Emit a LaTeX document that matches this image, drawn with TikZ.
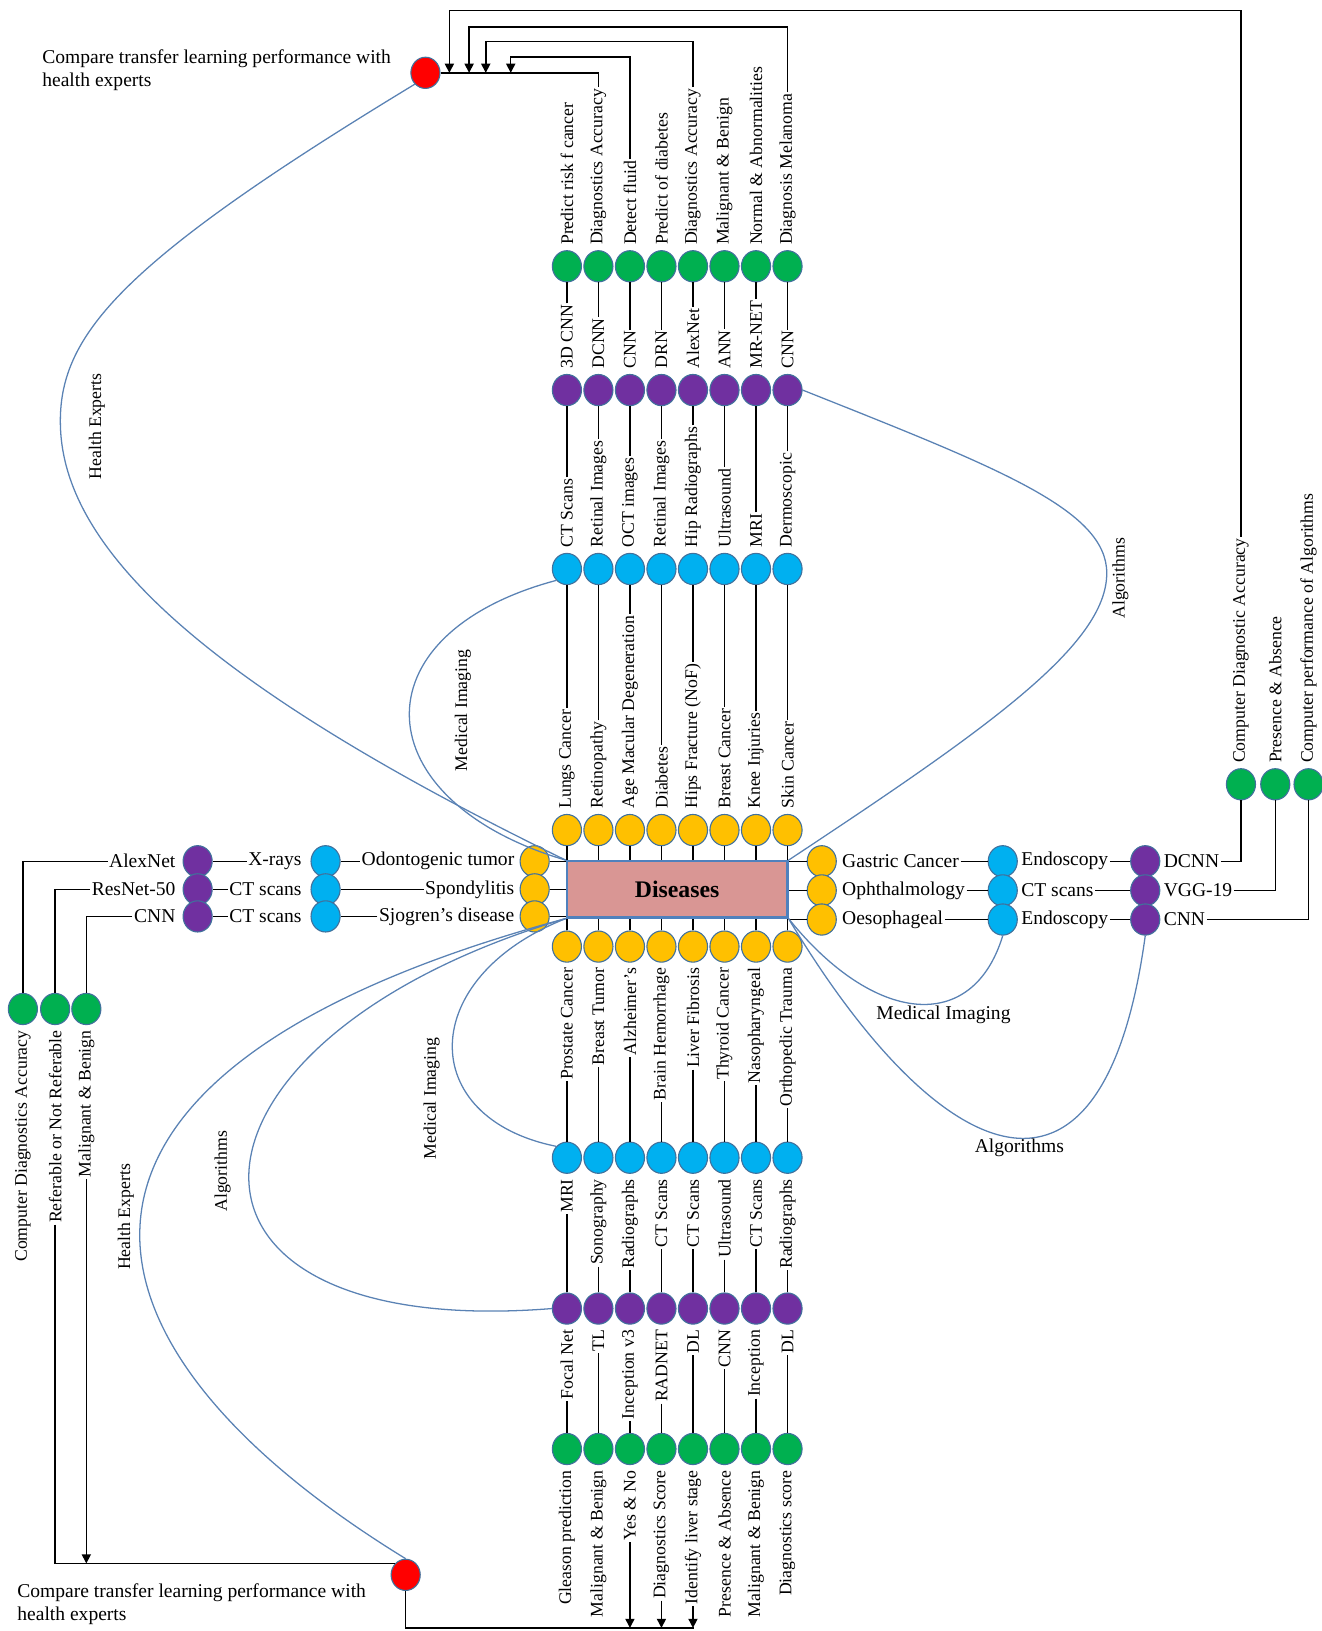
\documentclass[tikz,border=0pt]{standalone}
\usepackage{fontspec}
\setmainfont{Liberation Serif}
\usetikzlibrary{shapes.geometric,positioning,arrows.meta}

\definecolor{dotyellow}{HTML}{FFC000}
\definecolor{dotblue}{HTML}{00B0F0}
\definecolor{dotpurple}{HTML}{7030A0}
\definecolor{dotgreen}{HTML}{00B050}
\definecolor{dotred}{HTML}{FF0000}
\definecolor{dotrim}{HTML}{41719C}
\definecolor{linkblue}{HTML}{5A82B4}
\definecolor{boxfill}{HTML}{D99694}
\definecolor{boxrim}{HTML}{4F81BD}

\newcommand{\hlabfont}{\fontsize{10.7}{12.5}\selectfont}
\newcommand{\vlabfont}{\fontsize{9.7}{11}\selectfont}

\tikzset{
  dot/.style={ellipse,draw=dotrim,line width=0.6pt,minimum width=0.56cm,minimum height=0.6cm,inner sep=0pt},
  ydot/.style={dot,fill=dotyellow},
  bdot/.style={dot,fill=dotblue},
  pdot/.style={dot,fill=dotpurple},
  gdot/.style={dot,fill=dotgreen},
  rdot/.style={dot,fill=dotred},
  vlab/.style={rotate=90,font=\vlabfont,inner sep=0.5pt},
  hlab/.style={font=\hlabfont,inner sep=0.5pt},
  link/.style={draw=linkblue,line width=0.7pt},
  >={Triangle[length=5pt,width=5pt]},
}

\begin{document}
\begin{tikzpicture}[x=0.02cm,y=-0.02cm,line width=0.8pt]
  \useasboundingbox (0,0) rectangle (1270,1568);

  \node[draw=boxrim,fill=boxfill,line width=1.2pt,minimum width=4.24cm,minimum height=1.08cm,
        font=\fontsize{13}{15}\selectfont\bfseries] (box) at (651,855) {Diseases};

  %% upper columns
  \foreach \i/\tout/\talg/\timg/\tdis in {
      1/{Predict risk f cancer}/{3D CNN}/{CT Scans}/{Lungs Cancer},
      2/{Diagnostics Accuracy}/DCNN/{Retinal Images}/Retinopathy,
      3/{Detect fluid}/CNN/{OCT images}/{Age Macular Degeneration},
      4/{Predict of diabetes}/DRN/{Retinal Images}/Diabetes,
      5/{Diagnostics Accuracy}/AlexNet/{Hip Radiographs}/{Hips Fracture (NoF)},
      6/{Malignant \& Benign}/ANN/Ultrasound/{Breast Cancer},
      7/{Normal \& Abnormalities}/MR-NET/MRI/{Knee Injuries},
      8/{Diagnosis Melanoma}/CNN/Dermoscopic/{Skin Cancer}}{
    \pgfmathsetmacro{\cx}{514.7+30.3*\i}
    \node[ydot] (yT-\i) at (\cx,798) {};
    \node[bdot] (bT-\i) at (\cx,547) {};
    \node[pdot] (pT-\i) at (\cx,375) {};
    \node[gdot] (gT-\i) at (\cx,256) {};
    \node[vlab,above=2pt of yT-\i,anchor=west] (lyT-\i) {\tdis};
    \node[vlab,above=2pt of bT-\i,anchor=west] (lbT-\i) {\timg};
    \node[vlab,above=2pt of pT-\i,anchor=west] (lpT-\i) {\talg};
    \node[vlab,above=2pt of gT-\i,anchor=west] (lgT-\i) {\tout};
    \draw (yT-\i) -- (yT-\i |- box.north);
    \draw (lyT-\i.east) -- (bT-\i);
    \draw (lbT-\i.east) -- (pT-\i);
    \draw (lpT-\i.east) -- (gT-\i);
  }

  %% lower columns
  \foreach \i/\tdis/\timg/\talg/\tout in {
      1/{Prostate Cancer}/MRI/{Focal Net}/{Gleason prediction},
      2/{Breast Tumor}/Sonography/TL/{Malignant \& Benign},
      3/{Alzheimer's}/Radiographs/{Inception v3}/{Yes \& No},
      4/{Brain Hemorrhage}/{CT Scans}/RADNET/{Diagnostics Score},
      5/{Liver Fibrosis}/{CT Scans}/DL/{Identify liver stage},
      6/{Thyroid Cancer}/Ultrasound/CNN/{Presence \& Absence},
      7/Nasopharyngeal/{CT Scans}/Inception/{Malignant \& Benign},
      8/{Orthopedic Trauma}/Radiographs/DL/{Diagnostics score}}{
    \pgfmathsetmacro{\cx}{514.7+30.3*\i}
    \node[ydot] (yB-\i) at (\cx,910) {};
    \node[bdot] (bB-\i) at (\cx,1113) {};
    \node[pdot] (pB-\i) at (\cx,1258) {};
    \node[gdot] (gB-\i) at (\cx,1393) {};
    \node[vlab,below=2pt of yB-\i,anchor=east] (lyB-\i) {\tdis};
    \node[vlab,below=2pt of bB-\i,anchor=east] (lbB-\i) {\timg};
    \node[vlab,below=2pt of pB-\i,anchor=east] (lpB-\i) {\talg};
    \node[vlab,below=2pt of gB-\i,anchor=east] (lgB-\i) {\tout};
    \draw (yB-\i) -- (yB-\i |- box.south);
    \draw (lyB-\i.west) -- (bB-\i);
    \draw (lbB-\i.west) -- (pB-\i);
    \draw (lpB-\i.west) -- (gB-\i);
  }

  %% left rows
  \foreach \i/\gx/\tout in {1/22/{Computer Diagnostics Accuracy},
      2/53/{Referable or Not Referable},3/83/{Malignant \& Benign}}{
    \node[gdot] (gL-\i) at (\gx,970) {};
    \node[vlab,below=2pt of gL-\i,anchor=east] (lgL-\i) {\tout};
  }
  \foreach \i/\y/\tdis/\timg/\talg in {1/828/{Odontogenic tumor}/X-rays/AlexNet,
      2/855/Spondylitis/{CT scans}/ResNet-50,3/881/{Sjogren's disease}/{CT scans}/CNN}{
    \node[ydot] (yL-\i) at (514,\y) {};
    \node[bdot] (bL-\i) at (313,\y) {};
    \node[pdot] (pL-\i) at (190,\y) {};
    \node[hlab,left=2pt of yL-\i] (lyL-\i) {\tdis};
    \node[hlab,left=4pt of bL-\i] (lbL-\i) {\timg};
    \node[hlab,left=3pt of pL-\i] (lpL-\i) {\talg};
    \draw (yL-\i) -- (yL-\i -| box.west);
    \draw (lyL-\i) -- (bL-\i);
    \draw (lbL-\i) -- (pL-\i);
    \draw (lpL-\i) -| (gL-\i);
  }

  %% right rows
  \foreach \i/\gx/\tout in {1/1193/{Computer Diagnostic Accuracy},
      2/1226/{Presence \& Absence},3/1258/{Computer performance of Algorithms}}{
    \node[gdot] (gR-\i) at (\gx,754) {};
    \node[vlab,above=2pt of gR-\i,anchor=west] (lgR-\i) {\tout};
  }
  \foreach \i/\y/\tdis/\timg/\talg in {1/828/{Gastric Cancer}/Endoscopy/DCNN,
      2/856/Ophthalmology/{CT scans}/VGG-19,3/884/Oesophageal/Endoscopy/CNN}{
    \node[ydot] (yR-\i) at (790,\y) {};
    \node[bdot] (bR-\i) at (964,\y) {};
    \node[pdot] (pR-\i) at (1101,\y) {};
    \node[hlab,right=2pt of yR-\i] (lyR-\i) {\tdis};
    \node[hlab,right=1pt of bR-\i] (lbR-\i) {\timg};
    \node[hlab,right=1pt of pR-\i] (lpR-\i) {\talg};
    \draw (yR-\i) -- (yR-\i -| box.east);
    \draw (lyR-\i) -- (bR-\i);
    \draw (lbR-\i) -- (pR-\i);
    \draw (lpR-\i) -| (gR-\i);
  }

  %% comparison with health experts
  \node[rdot] (redT) at (409,70) {};
  \node[rdot] (redB) at (390,1514) {};
  \node[hlab,anchor=north west,align=left,inner sep=0pt] (cmpT) at (40,47)
    {Compare transfer learning performance with\\health experts};
  \node[hlab,anchor=north west,align=left,inner sep=0pt] (cmpB) at (16,1522)
    {Compare transfer learning performance with\\health experts};

  \coordinate (railA) at (432,10);  \coordinate (tipA) at (432,70);
  \coordinate (railB) at (451,26);  \coordinate (tipB) at (451,70);
  \coordinate (railC) at (467,40);  \coordinate (tipC) at (467,70);
  \coordinate (railD) at (491,55);  \coordinate (tipD) at (491,70);
  \draw (lgT-2.east) |- (redT.east);
  \draw[->] (lgR-1.east) |- (railA) -- (tipA);
  \draw[->] (lgT-8.east) |- (railB) -- (tipB);
  \draw[->] (lgT-5.east) |- (railC) -- (tipC);
  \draw[->] (lgT-3.east) |- (railD) -- (tipD);

  \coordinate (railE) at (667,1565);
  \draw (redB.south) |- (railE);
  \draw[->] (lgB-3.west) -- (lgB-3.west |- railE);
  \draw[->] (lgB-4.west) -- (lgB-4.west |- railE);
  \draw[->] (lgB-5.west) -- (lgB-5.west |- railE);
  \draw (lgL-2.west) |- (redB.north west);
  \draw[->] (lgL-3.west) -- (lgL-3.west |- redB.north west);

  %% curved links
  \draw[link] (redT.south west) .. controls (120,250) and (58,320) .. (58,405)
              .. controls (58,520) and (180,650) .. (box.north west);
  \draw[link] (bT-1.south west) .. controls (340,610) and (350,770) .. (box.north west);
  \draw[link] (pT-8.east) .. controls (960,450) and (1064,490) .. (1064,551)
              .. controls (1064,620) and (950,700) .. (box.north east);
  \draw[link] (box.south east) .. controls (840,985) and (935,995) .. (bR-3.south);
  \draw[link] (box.south east) .. controls (900,1120) and (1060,1200) .. (pR-3.south);
  \draw[link] (box.south west) .. controls (400,940) and (400,1075) .. (bB-1.north west);
  \draw[link] (box.south west) .. controls (150,1000) and (130,1290) .. (pB-1.west);
  \draw[link] (box.south west) .. controls (0,1030) and (50,1290) .. (redB.north);

  \node[vlab] (heT) at (93,410) {Health Experts};
  \node[vlab] (miT) at (445,683) {Medical Imaging};
  \node[vlab] (alT) at (1077,556) {Algorithms};
  \node[hlab] (miR) at (907,976) {Medical Imaging};
  \node[hlab] (alR) at (980,1103) {Algorithms};
  \node[vlab] (miB) at (415,1056) {Medical Imaging};
  \node[vlab] (alB) at (214,1126) {Algorithms};
  \node[vlab] (heB) at (121,1170) {Health Experts};
\end{tikzpicture}
\end{document}
